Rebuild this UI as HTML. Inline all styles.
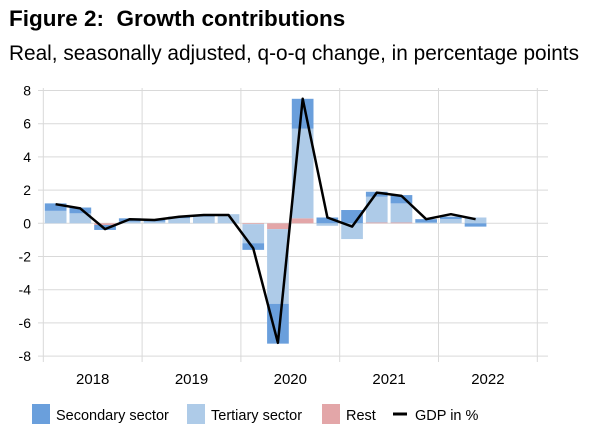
<!DOCTYPE html>
<html><head><meta charset="utf-8"><style>
body{margin:0;background:#fff;font-family:"Liberation Sans",Arial,sans-serif;}
#wrap{position:relative;width:600px;height:448px;overflow:hidden;}
.t{position:absolute;white-space:nowrap;color:#000;}
</style></head><body>
<div id="wrap">
<div class="t" style="left:9px;top:6px;font-size:22.5px;font-weight:bold;">Figure 2:&nbsp; Growth contributions</div>
<div class="t" style="left:9px;top:42px;font-size:20.8px;">Real, seasonally adjusted, q-o-q change, in percentage points</div>
<svg id="chart" width="600" height="448" style="position:absolute;left:0;top:0"></svg>
</div>
<script>
const quarters=["2018Q1","2018Q2","2018Q3","2018Q4","2019Q1","2019Q2","2019Q3","2019Q4","2020Q1","2020Q2","2020Q3","2020Q4","2021Q1","2021Q2","2021Q3","2021Q4","2022Q1","2022Q2"];
const secondary=[0.45,0.35,-0.3,0.2,0.1,0.1,0.1,0.0,-0.4,-2.4,1.8,0.35,0.8,0.3,0.5,0.2,0.15,-0.2];
const tertiary=[0.75,0.6,0.0,0.1,0.1,0.3,0.4,0.55,-1.15,-4.5,5.4,-0.15,-0.95,1.55,1.15,0.05,0.25,0.35];
const rest=[0,0,-0.1,0,0,0,0,0,-0.05,-0.35,0.3,0,0,0.05,0.05,0,0,0];
const gdp=[1.15,0.9,-0.35,0.25,0.2,0.4,0.5,0.5,-1.5,-7.2,7.5,0.35,-0.2,1.85,1.65,0.25,0.55,0.25];
const yTicks=[8,6,4,2,0,-2,-4,-6,-8];
const years=["2018","2019","2020","2021","2022"];
const NS="http://www.w3.org/2000/svg";
const svg=document.getElementById('chart');
const x0=43.3,qw=24.7,y0=223.3,py=16.6;
const X=i=>x0+qw*i;
const Y=v=>y0-v*py;
function mk(tag,a){const e=document.createElementNS(NS,tag);for(const k in a)e.setAttribute(k,a[k]);svg.appendChild(e);return e;}
yTicks.forEach(v=>{
 const l=mk('line',{x1:38,x2:548,y1:Y(v),y2:Y(v),stroke:'#d9d9d9','stroke-width':1});
 
 
 const t=mk('text',{x:31,y:Y(v)+5,'text-anchor':'end','font-size':14,fill:'#000'});
 t.textContent=v;
 
 
});
for(let k=0;k<=5;k++){
 const l=mk('line',{x1:X(4*k),x2:X(4*k),y1:88,y2:362,stroke:'#d9d9d9','stroke-width':1});
 
 
}
years.forEach((yr,k)=>{
 const t=mk('text',{x:X(4*k+2),y:384,'text-anchor':'middle','font-size':15,fill:'#000'});
 t.textContent=yr;
 
 
});
const series=[[rest,'#e3a6a8','rest'],[tertiary,'#aecbe8','tertiary'],[secondary,'#6a9fdc','secondary']];
quarters.forEach((q,i)=>{
 let pos=0,neg=0;
 series.forEach(([arr,col,nm])=>{
  const v=arr[i]; if(!v) return;
  let a,b; if(v>0){a=pos;b=pos+v;pos=b;}else{a=neg;b=neg+v;neg=b;}
  const r=mk('rect',{x:X(i)+1.5,width:qw-3,y:Math.min(Y(a),Y(b)),height:Math.abs(Y(a)-Y(b)),fill:col});
  
  
 });
});
const pts=gdp.map((v,i)=>(X(i)+qw/2).toFixed(1)+','+Y(v).toFixed(1)).join(' ');
const pl=mk('polyline',{points:pts,fill:'none',stroke:'#000','stroke-width':2.5,'stroke-linejoin':'round'});


const leg=[[32,'#6a9fdc','Secondary sector'],[187,'#aecbe8','Tertiary sector'],[322,'#e3a6a8','Rest']];
leg.forEach(([lx,col,lab])=>{
 const r=mk('rect',{x:lx,y:404,width:18,height:20,fill:col});
 
 
 const t=mk('text',{x:lx+24,y:420,'font-size':14.5,fill:'#000'});
 t.textContent=lab;
 
 
});
const ll=mk('line',{x1:393,x2:407,y1:414,y2:414,stroke:'#000','stroke-width':3});


const lt=mk('text',{x:415,y:420,'font-size':14.5,fill:'#000'});
lt.textContent='GDP in %';


</script>
</body></html>
